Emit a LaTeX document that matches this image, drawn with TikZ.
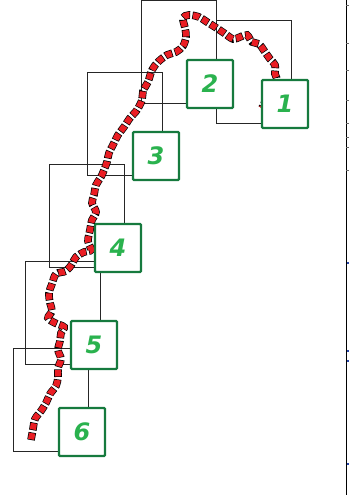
\documentclass[tikz,border=0pt]{standalone}
\usepackage{fontspec}
\setsansfont{DejaVu Sans}
\definecolor{boxgreen}{RGB}{22,122,62}
\definecolor{numgreen}{RGB}{42,178,78}
\definecolor{dotred}{RGB}{234,30,36}
\definecolor{tickblue}{RGB}{40,70,170}
\newcommand\framew{75}
\newcommand\frameh{103}
\newcommand\framedx{6}
\newcommand\framedy{19}

\begin{document}
\begin{tikzpicture}[x=1pt, y=-1pt]
	\tikzstyle{every node}=[font=\sffamily\bfseries\itshape\fontsize{24}{24}\selectfont]
	\tikzstyle{numbox}=[draw=boxgreen, line width=2.3pt, fill=white, text=numgreen, minimum width=46pt, minimum height=48pt, inner sep=0pt, rounded corners=1pt]
	\tikzstyle{dotedge}=[draw=black, line width=7.6pt, dash pattern=on 7.6pt off 2.4pt]
	\tikzstyle{dotfill}=[draw=dotred, line width=6.2pt, dash pattern=on 6.2pt off 3.8pt, dash phase=9.3pt]
	\tikzstyle{frame}=[draw=black!85, line width=0.8pt]

	\useasboundingbox (0,0) rectangle (350,495);

	%box centres
	\coordinate (c1) at (285,104);
	\coordinate (c2) at (210,84);
	\coordinate (c3) at (156,156);
	\coordinate (c4) at (118,248);
	\coordinate (c5) at (94,345);
	\coordinate (c6) at (82,432);

	%frames behind the boxes
	\foreach \i in {1,...,6}
		\draw[frame] (c\i) ++(\framedx-\framew,\framedy-\frameh) rectangle ++(\framew,\frameh);

	%track
	\newcommand\trackpath{plot[smooth, tension=0.55] coordinates {
		(31,440) (33,429) (35,419) (41,411) (46,403) (50,394) (56,386) (58,377)
		(58,368) (61,359) (58,350) (60,341) (61,333) (64,327) (55,323) (48,318)
		(52,311) (50,303) (49,293) (52,284) (56,274) (66,271) (72,264) (76,257)
		(84,252) (91,250) (88,241) (90,230) (92,220) (96,212) (92,203) (94,195)
		(96,185) (101,177) (104,170) (107,162) (109,153) (114,143) (118,135)
		(124,127) (130,118) (137,110) (142,100) (143,91) (148,82) (152,70)
		(158,62) (167,55) (176,52) (183,46) (186,37) (185,28) (183,18) (189,15)
		(199,17) (207,22) (215,27) (224,33) (233,39) (240,37) (247,35) (252,42)
		(259,44) (265,52) (270,59) (275,65) (275,74) (277,82) (268,96) (262,108)}}
	\draw[dotedge] \trackpath;
	\draw[dotfill] \trackpath;

	%numbered boxes
	\foreach \i in {1,...,6}
		\node[numbox] (b\i) at (c\i) {\i};

	%right edge
	\coordinate (edgetop) at (346,0);
	\coordinate (edgebot) at (346,495);
	\draw[line width=0.9pt] (edgetop) -- (edgebot);
	\foreach \y in {5,43,70,100,123,137,147,170}
		\draw[black!60, line width=0.6pt] (346,\y) -- ++(2.5,0);
	\foreach \y in {262,350,360,463}
		\fill[tickblue] (347,\y) rectangle ++(1.5,1.5);
\end{tikzpicture}
\end{document}
